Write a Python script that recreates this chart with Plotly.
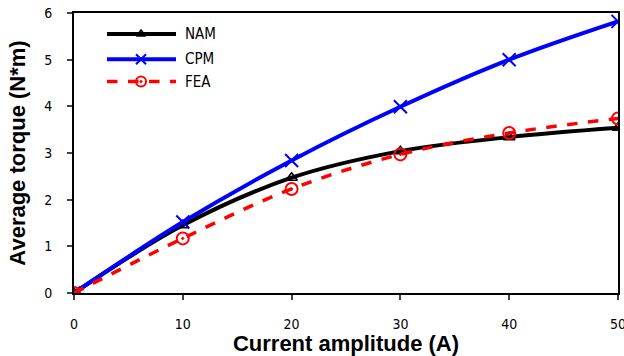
import plotly.graph_objects as go

current = [0, 10, 20, 30, 40, 50]
nam = [0, 1.45, 2.47, 3.04, 3.34, 3.54]
cpm = [0, 1.52, 2.84, 3.99, 5.0, 5.82]
fea = [0, 1.17, 2.23, 2.97, 3.43, 3.74]
series_names = ["NAM", "CPM", "FEA"]
x_ticks = [0, 10, 20, 30, 40, 50]
y_ticks = [0, 1, 2, 3, 4, 5, 6]

styles = {
    "NAM": dict(line=dict(color="black", width=4, shape="spline"),
                marker=dict(symbol="triangle-up-open", size=10, color="black", line=dict(width=1.5, color="black"))),
    "CPM": dict(line=dict(color="#0000ff", width=4, shape="spline"),
                marker=dict(symbol="x-thin-open", size=13, color="#0000ff", line=dict(width=2, color="#0000ff"))),
    "FEA": dict(line=dict(color="#ff0000", width=3.5, dash="dash", shape="spline"),
                marker=dict(symbol="circle-open-dot", size=12, color="#ff0000", line=dict(width=2, color="#ff0000"))),
}
legend_marker_sizes = {"NAM": 8, "CPM": 10, "FEA": 10}

fig = go.Figure()
for name, vals in zip(series_names, [nam, cpm, fea]):
    fig.add_trace(go.Scatter(x=current, y=vals, name=name, mode="lines+markers",
                             line=styles[name]["line"], marker=styles[name]["marker"],
                             showlegend=False))

# custom legend (longer sample lines) on an overlay axis spanning [0,1]
leg_x0, leg_x1, leg_xm, leg_tx = 0.0607, 0.1875, 0.1232, 0.2004
leg_y = {"NAM": 0.925, "CPM": 0.835, "FEA": 0.755}
for name in series_names:
    ln = dict(styles[name]["line"])
    ln.pop("shape", None)
    mk = dict(styles[name]["marker"])
    mk["size"] = legend_marker_sizes[name]
    fig.add_trace(go.Scatter(x=[leg_x0, leg_x1], y=[leg_y[name]] * 2, mode="lines", line=ln,
                             xaxis="x2", yaxis="y2", showlegend=False, hoverinfo="skip"))
    fig.add_trace(go.Scatter(x=[leg_xm], y=[leg_y[name]], mode="markers", marker=mk,
                             xaxis="x2", yaxis="y2", showlegend=False, hoverinfo="skip"))
    fig.add_annotation(x=leg_tx, y=leg_y[name], xref="paper", yref="paper", text=name,
                       showarrow=False, xanchor="left", yanchor="middle",
                       font=dict(family="DejaVu Sans Condensed, DejaVu Sans", size=15, color="black"))

fig.update_layout(
    width=624, height=356,
    margin=dict(l=74, r=6, t=13, b=63),
    paper_bgcolor="white", plot_bgcolor="white",
    font=dict(family="DejaVu Sans Condensed, DejaVu Sans", size=14, color="black"),
    showlegend=False,
    xaxis=dict(range=[0, 50], tickvals=x_ticks, ticks="outside", ticklen=5, tickwidth=2,
               showline=True, linecolor="black", linewidth=2, mirror=True, showgrid=False,
               zeroline=False, automargin=False, ticklabelstandoff=12, ticklabeloverflow="allow",
               title=dict(text="<b>Current amplitude (A)</b>", standoff=8,
                          font=dict(family="Liberation Sans, Arial", size=22))),
    yaxis=dict(range=[0, 6], tickvals=y_ticks, ticks="outside", ticklen=5, tickwidth=2,
               showline=True, linecolor="black", linewidth=2, mirror=True, showgrid=False,
               zeroline=False, automargin=False, ticklabelstandoff=12, ticklabeloverflow="allow",
               title=dict(text="<b>Average torque (N*m)</b>", standoff=12,
                          font=dict(family="Liberation Sans, Arial", size=22))),
    xaxis2=dict(range=[0, 1], overlaying="x", visible=False, fixedrange=True),
    yaxis2=dict(range=[0, 1], overlaying="y", visible=False, fixedrange=True),
)
fig.write_html("out.html", config={"displayModeBar": False},
               post_script="document.body.style.margin='0';")
